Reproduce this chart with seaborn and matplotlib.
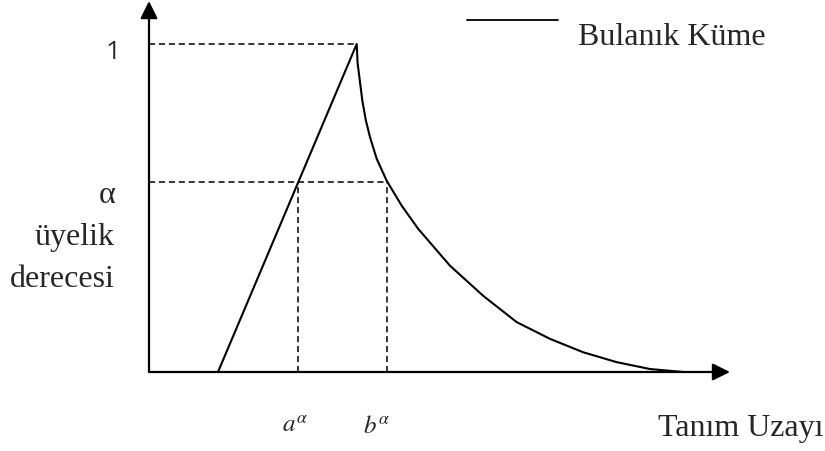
import matplotlib
matplotlib.use('Agg')
import matplotlib.pyplot as plt
import seaborn as sns
import pandas as pd

# membership function (x in arbitrary units, y = membership)
rise_x = [0.69, 2.077]
rise_y = [0.0, 1.0]
fall_x = [2.077, 2.086, 2.134, 2.168, 2.21, 2.277, 2.377, 2.527, 2.693, 3.01,
          3.343, 3.677, 4.01, 4.343, 4.677, 5.01, 5.343]
fall_y = [1.0, 0.942, 0.826, 0.768, 0.716, 0.650, 0.583, 0.507, 0.436, 0.324,
          0.232, 0.152, 0.101, 0.060, 0.030, 0.009, 0.0]

peak_x = 2.077
alpha_level = 0.58
a_alpha = 1.49
b_alpha = 2.38

x_axis_end = 5.81
y_axis_end = 1.131

sns.set_style('white')
plt.rcParams['font.family'] = ['Liberation Serif', 'DejaVu Serif']
plt.rcParams['mathtext.fontset'] = 'stix'

df = pd.DataFrame({'x': rise_x + fall_x[1:], 'y': rise_y + fall_y[1:]})

fig = plt.figure(figsize=(8.25, 4.52), dpi=100)
ax = fig.add_axes([0, 0, 1, 1])
ax.set_xlim(-1.49, 6.76)
ax.set_ylim(-0.2409, 1.1372)
ax.axis('off')

# axes with arrow heads
arrow = dict(arrowstyle='-|>,head_length=1.05,head_width=0.52', color='black',
             lw=1.6, shrinkA=0, shrinkB=0, mutation_scale=10)
ax.annotate('', xy=(x_axis_end, 0), xytext=(0, 0), arrowprops=arrow)
ax.annotate('', xy=(0, y_axis_end), xytext=(0, 0), arrowprops=arrow)

# fuzzy set
sns.lineplot(data=df, x='x', y='y', sort=False, estimator=None, color='black',
             linewidth=1.5, ax=ax)
for ln in ax.lines:
    ln.set_solid_joinstyle('round')

# dashed guide lines
dash = dict(color='black', linewidth=1.1, linestyle=(0, (4, 2.5)))
ax.plot([0, peak_x], [1, 1], **dash)
ax.plot([0, b_alpha], [alpha_level, alpha_level], **dash)
ax.plot([a_alpha, a_alpha], [0, alpha_level], **dash)
ax.plot([b_alpha, b_alpha], [0, alpha_level], **dash)

# legend drawn by hand
ax.plot([3.18, 4.09], [1.073, 1.073], color='black', linewidth=1.3)
ax.text(4.29, 1.0, 'Bulanık Küme', fontsize=23, va='baseline', ha='left')

# labels
ax.text(-0.36, 0.976, '1', fontsize=19, family=['Open Sans'], ha='center', va='center')
ax.text(-0.34, 0.518, 'α', fontsize=23, ha='right', va='baseline')
ax.text(-0.34, 0.390, 'üyelik', fontsize=23, ha='right', va='baseline')
ax.text(-0.34, 0.262, 'derecesi', fontsize=23, ha='right', va='baseline')
ax.text(1.46, -0.183, r'$a^{\alpha}$', fontsize=18, ha='center', va='baseline')
ax.text(2.28, -0.183, r'$b^{\alpha}$', fontsize=18, ha='center', va='baseline')
ax.text(5.09, -0.192, 'Tanım Uzayı', fontsize=23, ha='left', va='baseline')

fig.savefig('out.png', dpi=100)
